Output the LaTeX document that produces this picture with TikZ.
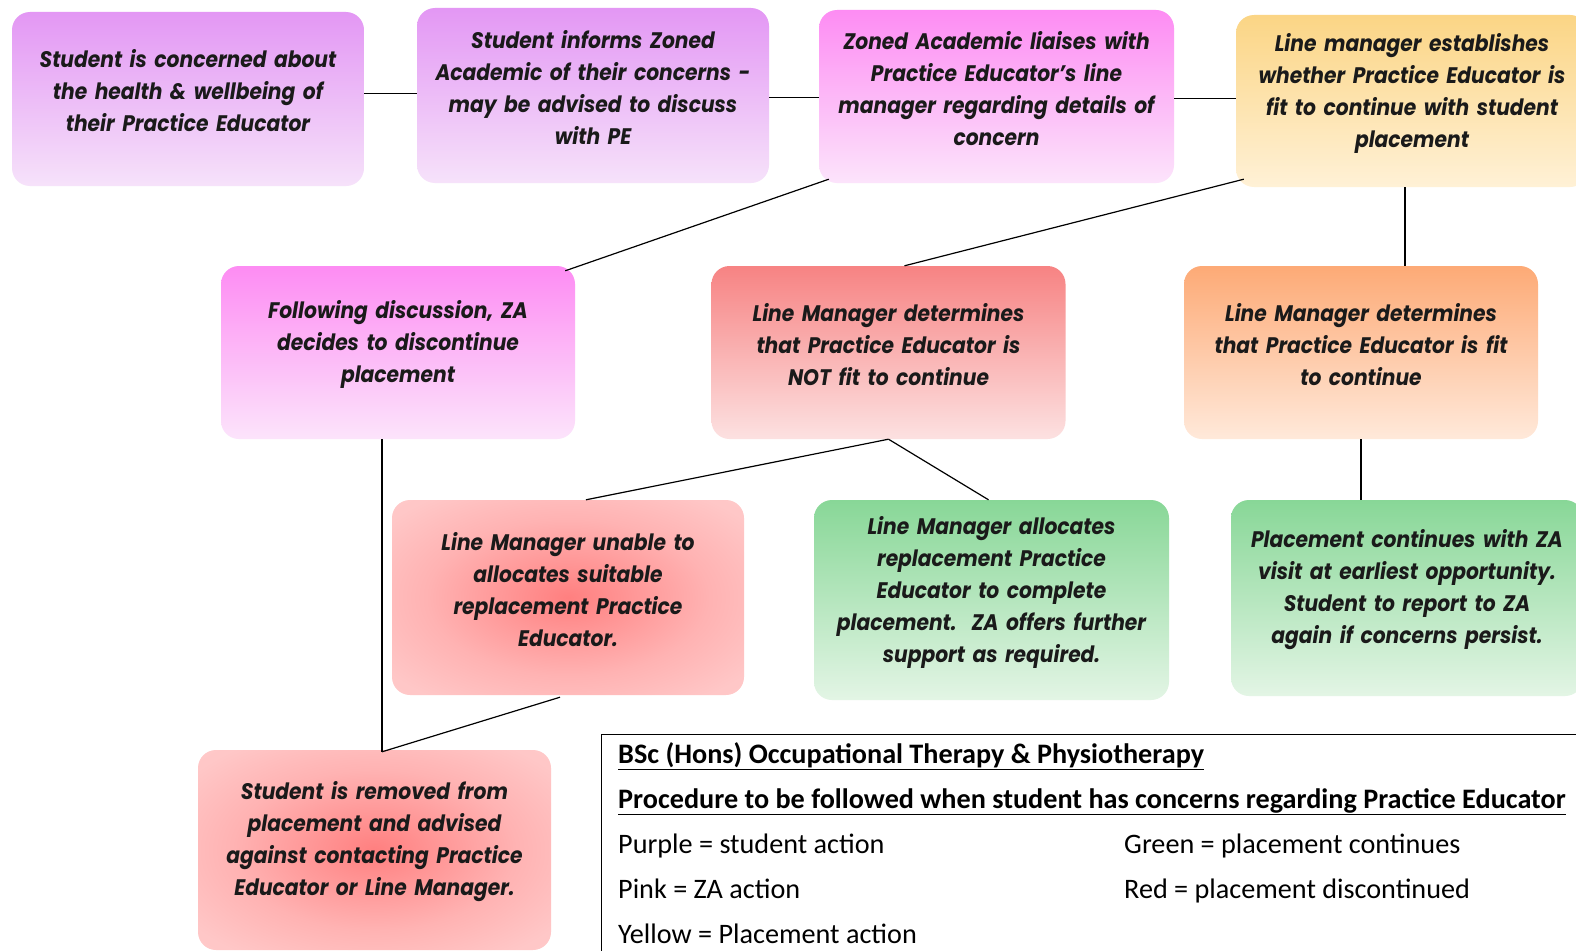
\documentclass[tikz,border=0pt]{standalone}
\usepackage{fontspec}
\setmainfont{Poppins}
\newfontfamily\boxfamily{Poppins}[FakeStretch=0.9]
\newfontfamily\legendfont{Carlito}
\usetikzlibrary{calc}

% box fills
\definecolor{purpleTop}{HTML}{E397F4}
\definecolor{purpleBot}{HTML}{F6E2FA}
\definecolor{pinkTop}{HTML}{FD8CF3}
\definecolor{pinkBot}{HTML}{FCE4FB}
\definecolor{yellowTop}{HTML}{FBD585}
\definecolor{yellowBot}{HTML}{FFF1D6}
\definecolor{redTop}{HTML}{F78383}
\definecolor{redBot}{HTML}{FCE1E1}
\definecolor{orangeTop}{HTML}{FDAA76}
\definecolor{orangeBot}{HTML}{FFE9DA}
\definecolor{greenTop}{HTML}{88D797}
\definecolor{greenBot}{HTML}{E3F5E5}
\definecolor{inkText}{HTML}{1A1A1A}

% red glow from the middle of a box out to its corners
\pgfdeclareradialshading{redglow}{\pgfpoint{0bp}{0bp}}{%
  color(0bp)=(red!50!white);
  color(8bp)=(red!42!white);
  color(20bp)=(red!30!white);
  color(32bp)=(red!22!white);
  color(72bp)=(red!15!white)}

\newcommand\boxfnt{\boxfamily\fontsize{22.5}{32}\selectfont\bfseries\itshape}

\tikzset{
  box/.style={rounded corners=18pt, minimum width=352pt, minimum height=174pt,
    text width=342pt, align=center, inner sep=0pt, font=\boxfnt, text=inkText,
    execute at end node={\par\vspace{16pt}}},
  purplebox/.style={box, top color=purpleTop, bottom color=purpleBot},
  pinkbox/.style={box, top color=pinkTop, bottom color=pinkBot},
  yellowbox/.style={box, top color=yellowTop, bottom color=yellowBot},
  redbox/.style={box, top color=redTop, bottom color=redBot},
  orangebox/.style={box, top color=orangeTop, bottom color=orangeBot},
  greenbox/.style={box, top color=greenTop, bottom color=greenBot},
  glowbox/.style={box, shading=redglow},
  link/.style={draw=black, line width=1.2pt},
  legendtxt/.style={anchor=base west, inner sep=0pt, font=\legendfont\fontsize{28.2}{32}\selectfont},
}

\begin{document}
\begin{tikzpicture}[x=1pt,y=-1pt]
\useasboundingbox (0,0) rectangle (1576,950);
\clip (0,0) rectangle (1576,950);
\fill[white] (0,0) rectangle (1576,950);

% top row
\node[purplebox] (n1) at (188,99) {Student is concerned about\\the health \& wellbeing of\\their Practice Educator};
\node[purplebox, minimum height=175pt] (n2) at (593,95.5) {Student informs Zoned\\Academic of their concerns -\\may be advised to discuss\\with PE};
\node[pinkbox, minimum width=355pt, minimum height=173pt] (n3) at (996.5,96.5) {Zoned Academic liaises with\\Practice Educator’s line\\manager regarding details of\\concern};
\node[yellowbox, minimum height=172pt] (n4) at (1412,101) {Line manager establishes\\whether Practice Educator is\\fit to continue with student\\placement};

% middle row
\node[pinkbox, minimum width=354pt, minimum height=173pt] (n5) at (398,352.5) {Following discussion, ZA\\decides to discontinue\\placement};
\node[redbox, minimum width=354pt, minimum height=173pt] (n6) at (888.5,352.5) {Line Manager determines\\that Practice Educator is\\NOT fit to continue};
\node[orangebox, minimum width=354pt, minimum height=173pt] (n7) at (1361,352.5) {Line Manager determines\\that Practice Educator is fit\\to continue};

% lower row
\node[glowbox, minimum height=195pt] (n8) at (568,597.5) {Line Manager unable to\\allocates suitable\\replacement Practice\\Educator.};
\node[greenbox, minimum width=355pt, minimum height=200pt] (n9) at (991.5,600) {Line Manager allocates\\replacement Practice\\Educator to complete\\placement.\ \ ZA offers further\\support as required.};
\node[greenbox, minimum height=196pt] (n10) at (1407,598) {Placement continues with ZA\\visit at earliest opportunity.\\Student to report to ZA\\again if concerns persist.};
\node[glowbox, minimum width=353pt, minimum height=200pt] (n11) at (374.5,850) {Student is removed from\\placement and advised\\against contacting Practice\\Educator or Line Manager.};

% connectors
\draw[link] ([yshift=5.5pt]n1.east) -- ([yshift=2pt]n2.west);
\draw[link] ([yshift=-2pt]n2.east) -- ([yshift=-1pt]n3.west);
\draw[link] ([yshift=-2pt]n3.east) -- ([yshift=2.5pt]n4.west);
\draw[link] ([xshift=10pt,yshift=4pt]n3.south west) -- ([xshift=-10pt,yshift=-5pt]n5.north east);
\draw[link] ([xshift=8pt,yshift=8pt]n4.south west) -- ([xshift=16pt]n6.north);
\coordinate (c47) at ([xshift=-7pt]n4.south);
\draw[link] (c47) -- (c47 |- n7.north);
\draw[link] (n6.south) -- ([xshift=18pt]n8.north);
\draw[link] (n6.south) -- ([xshift=-3pt]n9.north);
\draw[link] (n7.south) -- (n7.south |- n10.north);
\coordinate (c511) at ([xshift=-16pt]n5.south);
\coordinate (j11) at ([yshift=-2pt]c511 |- n11.north);
\draw[link] (c511) -- (j11);
\draw[link] ([xshift=-8pt,yshift=-2pt]n8.south) -- (j11);

% legend panel
\node[draw=black, line width=1.3pt, minimum width=990pt, minimum height=240pt, anchor=north west, inner sep=0pt] (legend) at (601,734) {};
\node[legendtxt] (lt1) at (618,763) {\bfseries\underline{BSc (Hons) Occupational Therapy \& Physiotherapy}};
\node[legendtxt] (lt2) at (618,808) {\bfseries\underline{Procedure to be followed when student has concerns regarding Practice Educator}};
\node[legendtxt] (lk1) at (618,853) {Purple = student action};
\node[legendtxt] (lk2) at (618,898) {Pink = ZA action};
\node[legendtxt] (lk3) at (618,943) {Yellow = Placement action};
\node[legendtxt] (lk4) at (1124,853) {Green = placement continues};
\node[legendtxt] (lk5) at (1124,898) {Red = placement discontinued};
\end{tikzpicture}
\end{document}
